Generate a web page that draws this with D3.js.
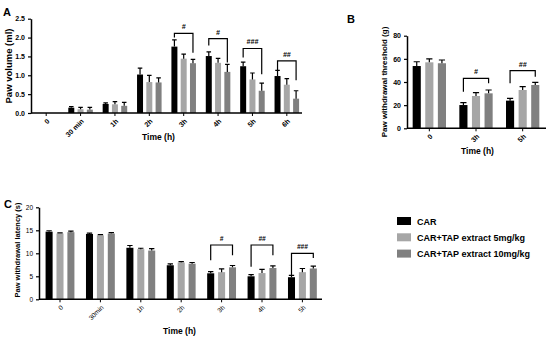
<!DOCTYPE html>
<html>
<head>
<meta charset="utf-8">
<script src="https://cdn.jsdelivr.net/npm/d3@7"></script>
<style>
  body { margin: 0; background: #fff; }
  svg { font-family: "Liberation Sans", Arial, sans-serif; }
  .axis path, .axis line { stroke: #000; }
</style>
</head>
<body>
<div id="chart"></div>
<script>
// series names (legend)
const seriesNames = ["CAR", "CAR+TAP extract 5mg/kg", "CAR+TAP extract 10mg/kg"];
const seriesColors = ["#000000", "#a6a6a6", "#808080"];

// Panel A - paw volume (ml)
const timesA = ["0", "30 min", "1h", "2h", "3h", "4h", "5h", "6h"];
const carA    = [0, 0.14, 0.24, 1.02, 1.76, 1.51, 1.24, 0.98];
const tap5A   = [0, 0.10, 0.23, 0.82, 1.44, 1.33, 0.89, 0.75];
const tap10A  = [0, 0.09, 0.19, 0.81, 1.32, 1.09, 0.59, 0.38];
const carErrA   = [0, 0.03, 0.03, 0.17, 0.18, 0.11, 0.11, 0.15];
const tap5ErrA  = [0, 0.05, 0.07, 0.18, 0.12, 0.12, 0.17, 0.16];
const tap10ErrA = [0, 0.06, 0.09, 0.12, 0.10, 0.20, 0.20, 0.21];
const ticksA = [0, 0.5, 1.0, 1.5, 2.0, 2.5];
// significance brackets: group, label, top level, left end, right end (data units)
const sigA = [
  ["3h", "#", 2.11, 2.0, 1.6],
  ["4h", "#", 1.97, 1.79, 1.34],
  ["5h", "###", 1.71, 1.47, 1.03],
  ["6h", "##", 1.38, 1.11, 0.87]
];

// Panel B - paw withdrawal threshold (g)
const timesB = ["0", "3h", "5h"];
const carB    = [53.8, 20.1, 23.9];
const tap5B   = [57.0, 27.9, 33.1];
const tap10B  = [56.2, 30.2, 37.4];
const carErrB   = [3.7, 2.0, 2.0];
const tap5ErrB  = [2.9, 2.9, 2.9];
const tap10ErrB = [2.8, 2.9, 2.3];
const ticksB = [0, 20, 40, 60, 80];
const sigB = [
  ["3h", "#", 43.2, 31.6, 38.9],
  ["5h", "##", 49.8, 38.9, 44.6]
];

// Panel C - paw withdrawal latency (s)
const timesC = ["0", "30min", "1h", "2h", "3h", "4h", "5h"];
const carC    = [14.7, 14.2, 11.2, 7.4, 5.65, 5.0, 4.8];
const tap5C   = [14.3, 13.9, 10.9, 8.0, 5.9, 5.7, 5.9];
const tap10C  = [14.6, 14.3, 10.6, 7.75, 6.95, 6.8, 6.7];
const carErrC   = [0.2, 0.2, 0.5, 0.3, 0.35, 0.35, 0.4];
const tap5ErrC  = [0.15, 0.15, 0.2, 0.2, 0.7, 0.8, 0.8];
const tap10ErrC = [0.2, 0.2, 0.4, 0.25, 0.4, 0.45, 0.5];
const ticksC = [0, 5, 10, 15, 20];
const sigC = [
  ["3h", "#", 11.8, 8.5, 9.6],
  ["4h", "##", 11.8, 7.1, 9.6],
  ["5h", "###", 10.0, 5.3, 9.0]
];

const svg = d3.select("#chart").append("svg")
  .attr("width", 550)
  .attr("height", 339);

function drawPanel(p) {
  const x = d3.scaleBand().domain(p.times).range(p.xRange);
  const y = d3.scaleLinear().domain(p.yDomain).range(p.yRange);
  const bw = x.bandwidth();
  const inner = d3.scaleBand().domain([0, 1, 2])
    .range([bw * 0.143, bw * 0.857]).paddingInner(0.355);

  const g = svg.append("g");
  const rows = p.times.map((t, i) => ({
    t: t,
    vals: [p.vals[0][i], p.vals[1][i], p.vals[2][i]],
    errs: [p.errs[0][i], p.errs[1][i], p.errs[2][i]]
  }));

  // bars
  const grp = g.selectAll("g.grp").data(rows).enter().append("g")
    .attr("transform", d => "translate(" + x(d.t) + ",0)");
  grp.selectAll("rect").data(d => d.vals.map((v, k) => ({ v: v, e: d.errs[k], k: k })))
    .enter().append("rect")
    .attr("x", d => inner(d.k))
    .attr("width", inner.bandwidth())
    .attr("y", d => y(d.v))
    .attr("height", d => y(0) - y(d.v))
    .attr("fill", d => seriesColors[d.k]);

  // upper error bars
  const cap = inner.bandwidth() * 0.38;
  grp.selectAll("path.err").data(d => d.vals.map((v, k) => ({ v: v, e: d.errs[k], k: k })).filter(d => d.v > 0))
    .enter().append("path")
    .attr("class", "err")
    .attr("d", d => {
      const cx = inner(d.k) + inner.bandwidth() / 2;
      return "M" + cx + "," + y(d.v) + "V" + y(d.v + d.e) +
        "M" + (cx - cap) + "," + y(d.v + d.e) + "H" + (cx + cap);
    })
    .attr("stroke", "#000")
    .attr("stroke-width", 1.2)
    .attr("fill", "none");

  // significance brackets (CAR vs 10mg/kg)
  p.sig.forEach(s => {
    const x1 = x(s[0]) + inner(0) + inner.bandwidth() / 2;
    const x2 = x(s[0]) + inner(2) + inner.bandwidth() / 2;
    g.append("path")
      .attr("d", "M" + x1 + "," + y(s[3]) + "V" + y(s[2]) + "H" + x2 + "V" + y(s[4]))
      .attr("stroke", "#000").attr("stroke-width", 1.2).attr("fill", "none");
    g.append("text")
      .attr("x", (x1 + x2) / 2)
      .attr("y", y(s[2]) - 4)
      .attr("text-anchor", "middle")
      .attr("font-size", p.tickSize)
      .attr("font-weight", "bold")
      .attr("font-style", "italic")
      .attr("fill", "#000")
      .text(s[1]);
  });

  // y axis
  const ya = g.append("g").attr("class", "axis")
    .attr("transform", "translate(" + p.axisX + ",0)")
    .call(d3.axisLeft(y).tickValues(p.ticks).tickFormat(p.fmt).tickSize(3).tickSizeOuter(0));
  ya.select(".domain").attr("stroke-width", 1.5);
  ya.selectAll("line").attr("stroke-width", 1.2);
  ya.selectAll("text").attr("font-size", p.tickSize).attr("font-weight", p.tickWeight)
    .attr("font-family", "Liberation Sans, Arial, sans-serif").attr("fill", "#000");

  // x axis, labels rotated inside their own group
  const xa = g.append("g").attr("class", "axis")
    .attr("transform", "translate(0," + y(0) + ")")
    .call(d3.axisBottom(x).tickSize(3).tickSizeOuter(0).tickFormat(""));
  xa.select(".domain").attr("d", "M" + p.axisX + ",0H" + p.axisEnd).attr("stroke-width", 1.5);
  xa.selectAll("line").attr("stroke-width", 1);
  xa.selectAll(".tick text").remove();
  xa.selectAll(".tick").append("g")
    .attr("transform", "translate(2,7) rotate(-45)")
    .append("text")
    .attr("text-anchor", "end")
    .attr("dy", "0.35em")
    .attr("font-size", p.tickSize).attr("font-weight", p.tickWeight)
    .attr("font-family", "Liberation Sans, Arial, sans-serif").attr("fill", "#000")
    .text(d => d);

  // titles
  g.append("text")
    .attr("x", (p.axisX + p.axisEnd) / 2 + p.xTitleShift)
    .attr("y", p.xTitleY)
    .attr("text-anchor", "middle")
    .attr("font-size", 8.5).attr("font-weight", "bold")
    .text("Time (h)");
  g.append("text")
    .attr("transform", "translate(" + p.yTitleX + "," + p.yTitleY + ") rotate(-90)")
    .attr("text-anchor", "middle")
    .attr("font-size", p.yTitleSize).attr("font-weight", "bold")
    .text(p.yTitle);
  g.append("text")
    .attr("x", p.letterPos[0]).attr("y", p.letterPos[1])
    .attr("font-size", 11).attr("font-weight", "bold")
    .text(p.letter);
}

drawPanel({
  letter: "A", letterPos: [3, 16],
  times: timesA, vals: [carA, tap5A, tap10A], errs: [carErrA, tap5ErrA, tap10ErrA],
  sig: sigA, ticks: ticksA, fmt: d3.format(".1f"),
  xRange: [29, 304], axisX: 31, axisEnd: 302,
  yDomain: [0, 2.5], yRange: [113, 18.7],
  tickSize: 7, tickWeight: "bold",
  xTitleY: 140, xTitleShift: -8,
  yTitle: "Paw volume (ml)", yTitleX: 12, yTitleY: 66, yTitleSize: 9.5
});

drawPanel({
  letter: "B", letterPos: [347, 23],
  times: timesB, vals: [carB, tap5B, tap10B], errs: [carErrB, tap5ErrB, tap10ErrB],
  sig: sigB, ticks: ticksB, fmt: d3.format("d"),
  xRange: [406, 546], axisX: 407, axisEnd: 546,
  yDomain: [0, 80], yRange: [128.3, 35.7],
  tickSize: 7, tickWeight: "bold",
  xTitleY: 154, xTitleShift: 1,
  yTitle: "Paw withdrawal threshold (g)", yTitleX: 387, yTitleY: 82, yTitleSize: 8
});

drawPanel({
  letter: "C", letterPos: [4, 208],
  times: timesC, vals: [carC, tap5C, tap10C], errs: [carErrC, tap5ErrC, tap10ErrC],
  sig: sigC, ticks: ticksC, fmt: d3.format("d"),
  xRange: [39.8, 322.6], axisX: 39, axisEnd: 322,
  yDomain: [0, 20], yRange: [299.3, 207.3],
  tickSize: 6.5, tickWeight: "normal",
  xTitleY: 334, xTitleShift: -1,
  yTitle: "Paw withdrawal latency (s)", yTitleX: 20, yTitleY: 250, yTitleSize: 7.5
});

// legend
const legend = svg.append("g").attr("transform", "translate(397,217)");
const li = legend.selectAll("g").data(seriesNames).enter().append("g")
  .attr("transform", (d, i) => "translate(0," + i * 16.3 + ")");
li.append("rect").attr("width", 14).attr("height", 8)
  .attr("fill", (d, i) => seriesColors[i]);
li.append("text").attr("x", 20).attr("y", 7.5)
  .attr("font-size", 9).attr("font-weight", "bold")
  .text(d => d);
</script>
</body>
</html>
